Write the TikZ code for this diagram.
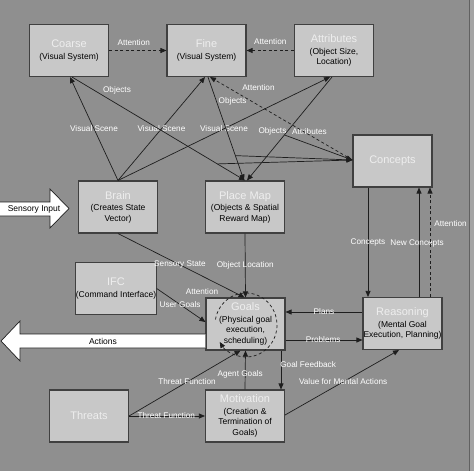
\documentclass[tikz,border=0pt]{standalone}
\usepackage{fontspec}
\setmainfont{Liberation Sans}
\usetikzlibrary{arrows.meta,calc}
\definecolor{bgc}{HTML}{8F8F8F}
\definecolor{boxc}{HTML}{C8C8C8}
\definecolor{ttlc}{HTML}{EEEEEE}
\definecolor{linec}{HTML}{1E1E1E}
\definecolor{edgec}{HTML}{A4A4A4}
\tikzset{
 box/.style={draw=linec!85, line width=1.1pt, fill=boxc, minimum width=79pt, minimum height=52pt, inner sep=0pt, align=center, font=\fontsize{8.5}{10.5}\selectfont},
 conn/.style={draw=linec, line width=0.7pt, -{Triangle[length=6pt,width=5pt]}},
 dconn/.style={conn, dash pattern=on 3pt off 2.5pt},
 lbl/.style={text=white, font=\fontsize{8.2}{9}\selectfont, inner sep=0pt},
 blk/.style={draw=linec, line width=0.7pt, fill=white},
 blktxt/.style={text=black, font=\fontsize{8.5}{10}\selectfont, inner sep=0pt},
}
\newcommand{\ttl}[1]{{\fontsize{11}{12}\selectfont\color{ttlc}#1}}
\begin{document}
\begin{tikzpicture}[x=1pt,y=-1pt]
\useasboundingbox (0,0) rectangle (474,471);
\fill[bgc] (0,0) rectangle (474,471);
\fill[edgec] (470,0) rectangle (474,471);
\draw[linec!70, line width=1pt] (469.5,0) -- (469.5,471);

% boxes
\node[box] (coarse) at (69,50.5) {\ttl{Coarse}\\[1.5pt](Visual System)};
\node[box] (fine) at (206.5,50.5) {\ttl{Fine}\\[1.5pt](Visual System)};
\node[box] (attr) at (334,50.5) {\ttl{Attributes}\\[1pt](Object Size,\\Location)};
\node[box] (concepts) at (392.5,161) {\ttl{Concepts}};
\node[box] (brain) at (118,207) {\ttl{Brain}\\[1pt](Creates State\\Vector)};
\node[box] (place) at (245,207) {\ttl{Place Map}\\[1pt](Objects \& Spatial\\Reward Map)};
\node[box] (ifc) at (116,288.5) {\ttl{IFC}\\[1.5pt](Command Interface)};
\node[box] (goals) at (245.5,324) {\ttl{Goals}\\[1pt](Physical goal\\execution,\\scheduling)};
\node[box] (reasoning) at (402.5,323.5) {\ttl{Reasoning}\\[1pt](Mental Goal\\Execution, Planning)};
\node[box] (threats) at (89,416) {\ttl{Threats}};
\node[box] (motivation) at (245,416) {\ttl{Motivation}\\[1pt](Creation \&\\Termination of\\Goals)};

% block arrows
\draw[blk] (0,202) -- (50,202) -- (50,189) -- (69,208.5) -- (50,228) -- (50,216) -- (0,216);
\node[blktxt] (sensory) at (34,209) {Sensory Input};
\draw[blk] ($(goals.west)+(0,10)$) -- (20,334) -- (20,321) -- (1,341) -- (20,361) -- (20,348) -- ($(goals.west)+(0,24)$);
\node[blktxt] (actions) at (103,341) {Actions};

% top row attention
\draw[dconn] (coarse.east) -- node[lbl, pos=.43, yshift=8pt] {Attention} (fine.west);
\draw[dconn] (attr.west) -- node[lbl, pos=.5, yshift=9pt] {Attention} (fine.east);

% visual scene
\draw[conn] (brain.north) -- node[lbl, pos=.5] {Visual Scene} ([xshift=1]coarse.south);
\draw[conn] (brain.north) -- node[lbl, pos=.5] {Visual Scene} ([xshift=-1.5]fine.south);
\draw[conn] (brain.north) -- node[lbl, pos=.5] {Visual Scene} ([xshift=-4]attr.south);

% objects / attributes to place map and concepts
\draw[conn] ([xshift=3]coarse.south) -- node[lbl, pos=.26, yshift=14pt] {Objects} coordinate[pos=.84] (cb) ([xshift=0]place.north);
\draw[conn] ([xshift=1.5]fine.south) -- node[lbl, pos=.24, xshift=16pt] {Objects} coordinate[pos=.76] (fb) ([xshift=-1]place.north);
\draw[conn] ([xshift=-2]attr.south) -- node[lbl, pos=.53, xshift=22.5pt] {Attributes} node[lbl, pos=.53, xshift=-14.5pt] {Objects} coordinate[pos=.56] (ab) ([xshift=2]place.north);
\draw[conn] (cb) -- ($(concepts.west)+(0,-1)$);
\draw[conn] (fb) -- ($(concepts.west)+(0,-1)$);
\draw[conn] (ab) -- ($(concepts.west)+(0,-1)$);
\draw[dconn] ($(concepts.west)+(0,-1)$) -- node[lbl, pos=.66, yshift=18pt] {Attention} ([xshift=3.5]fine.south);

% to goals
\draw[conn] (brain.south) -- node[lbl, pos=.49] {Sensory State} ([xshift=-1]goals.north);
\draw[conn] (place.south) -- node[lbl, pos=.5] {Object Location} (goals.north);
\draw[conn] (ifc.east) -- node[lbl, pos=.48] {User Goals} ($(goals.west)+(0,-2)$);
\draw[dconn] ($(goals.center)+(0.5,1)+({31*cos(190)},{32*sin(190)})$) arc[start angle=190, end angle=508, x radius=31, y radius=32];
\node[lbl] (goalatt) at ($(goals.center)+(-43.5,-32)$) {Attention};

% goals / motivation
\draw[conn] (motivation.north) -- node[lbl, pos=.375, xshift=-5pt] {Agent Goals} (goals.south);
\draw[conn] ([xshift=35.5]goals.south) -- node[lbl, anchor=west, pos=.35, xshift=-1pt] {Goal Feedback} ([xshift=36]motivation.north);
\draw[conn] (threats.east) -- node[lbl, pos=.49] {Threat Function} (motivation.west);
\draw[conn] (threats.east) -- node[lbl, pos=.52] {Threat Function} ([xshift=-5]goals.south);
\draw[conn] ($(motivation.east)+(0,-1)$) -- node[lbl, pos=.51] {Value for Mental Actions} ([xshift=-3.5]reasoning.south);

% goals / reasoning
\draw[conn] ($(reasoning.west)+(0,-11.5)$) -- node[lbl, pos=.5] {Plans} ($(goals.east)+(0,-12)$);
\draw[conn] ($(goals.east)+(0,16)$) -- node[lbl, pos=.49] {Problems} ($(reasoning.west)+(0,16.5)$);

% concepts / reasoning
\draw[conn] ([xshift=-24.5]concepts.south) -- node[lbl, pos=.5] {Concepts} ([xshift=-34.5]reasoning.north);
\draw[conn] ([xshift=16.5]reasoning.north) -- node[lbl, pos=.49, xshift=-2pt] {New Concepts} ([xshift=26.5]concepts.south);
\draw[dconn] ([xshift=27.5]reasoning.north) -- node[lbl, anchor=west, pos=.67, xshift=4pt] {Attention} ([xshift=37.5]concepts.south);
\end{tikzpicture}
\end{document}
